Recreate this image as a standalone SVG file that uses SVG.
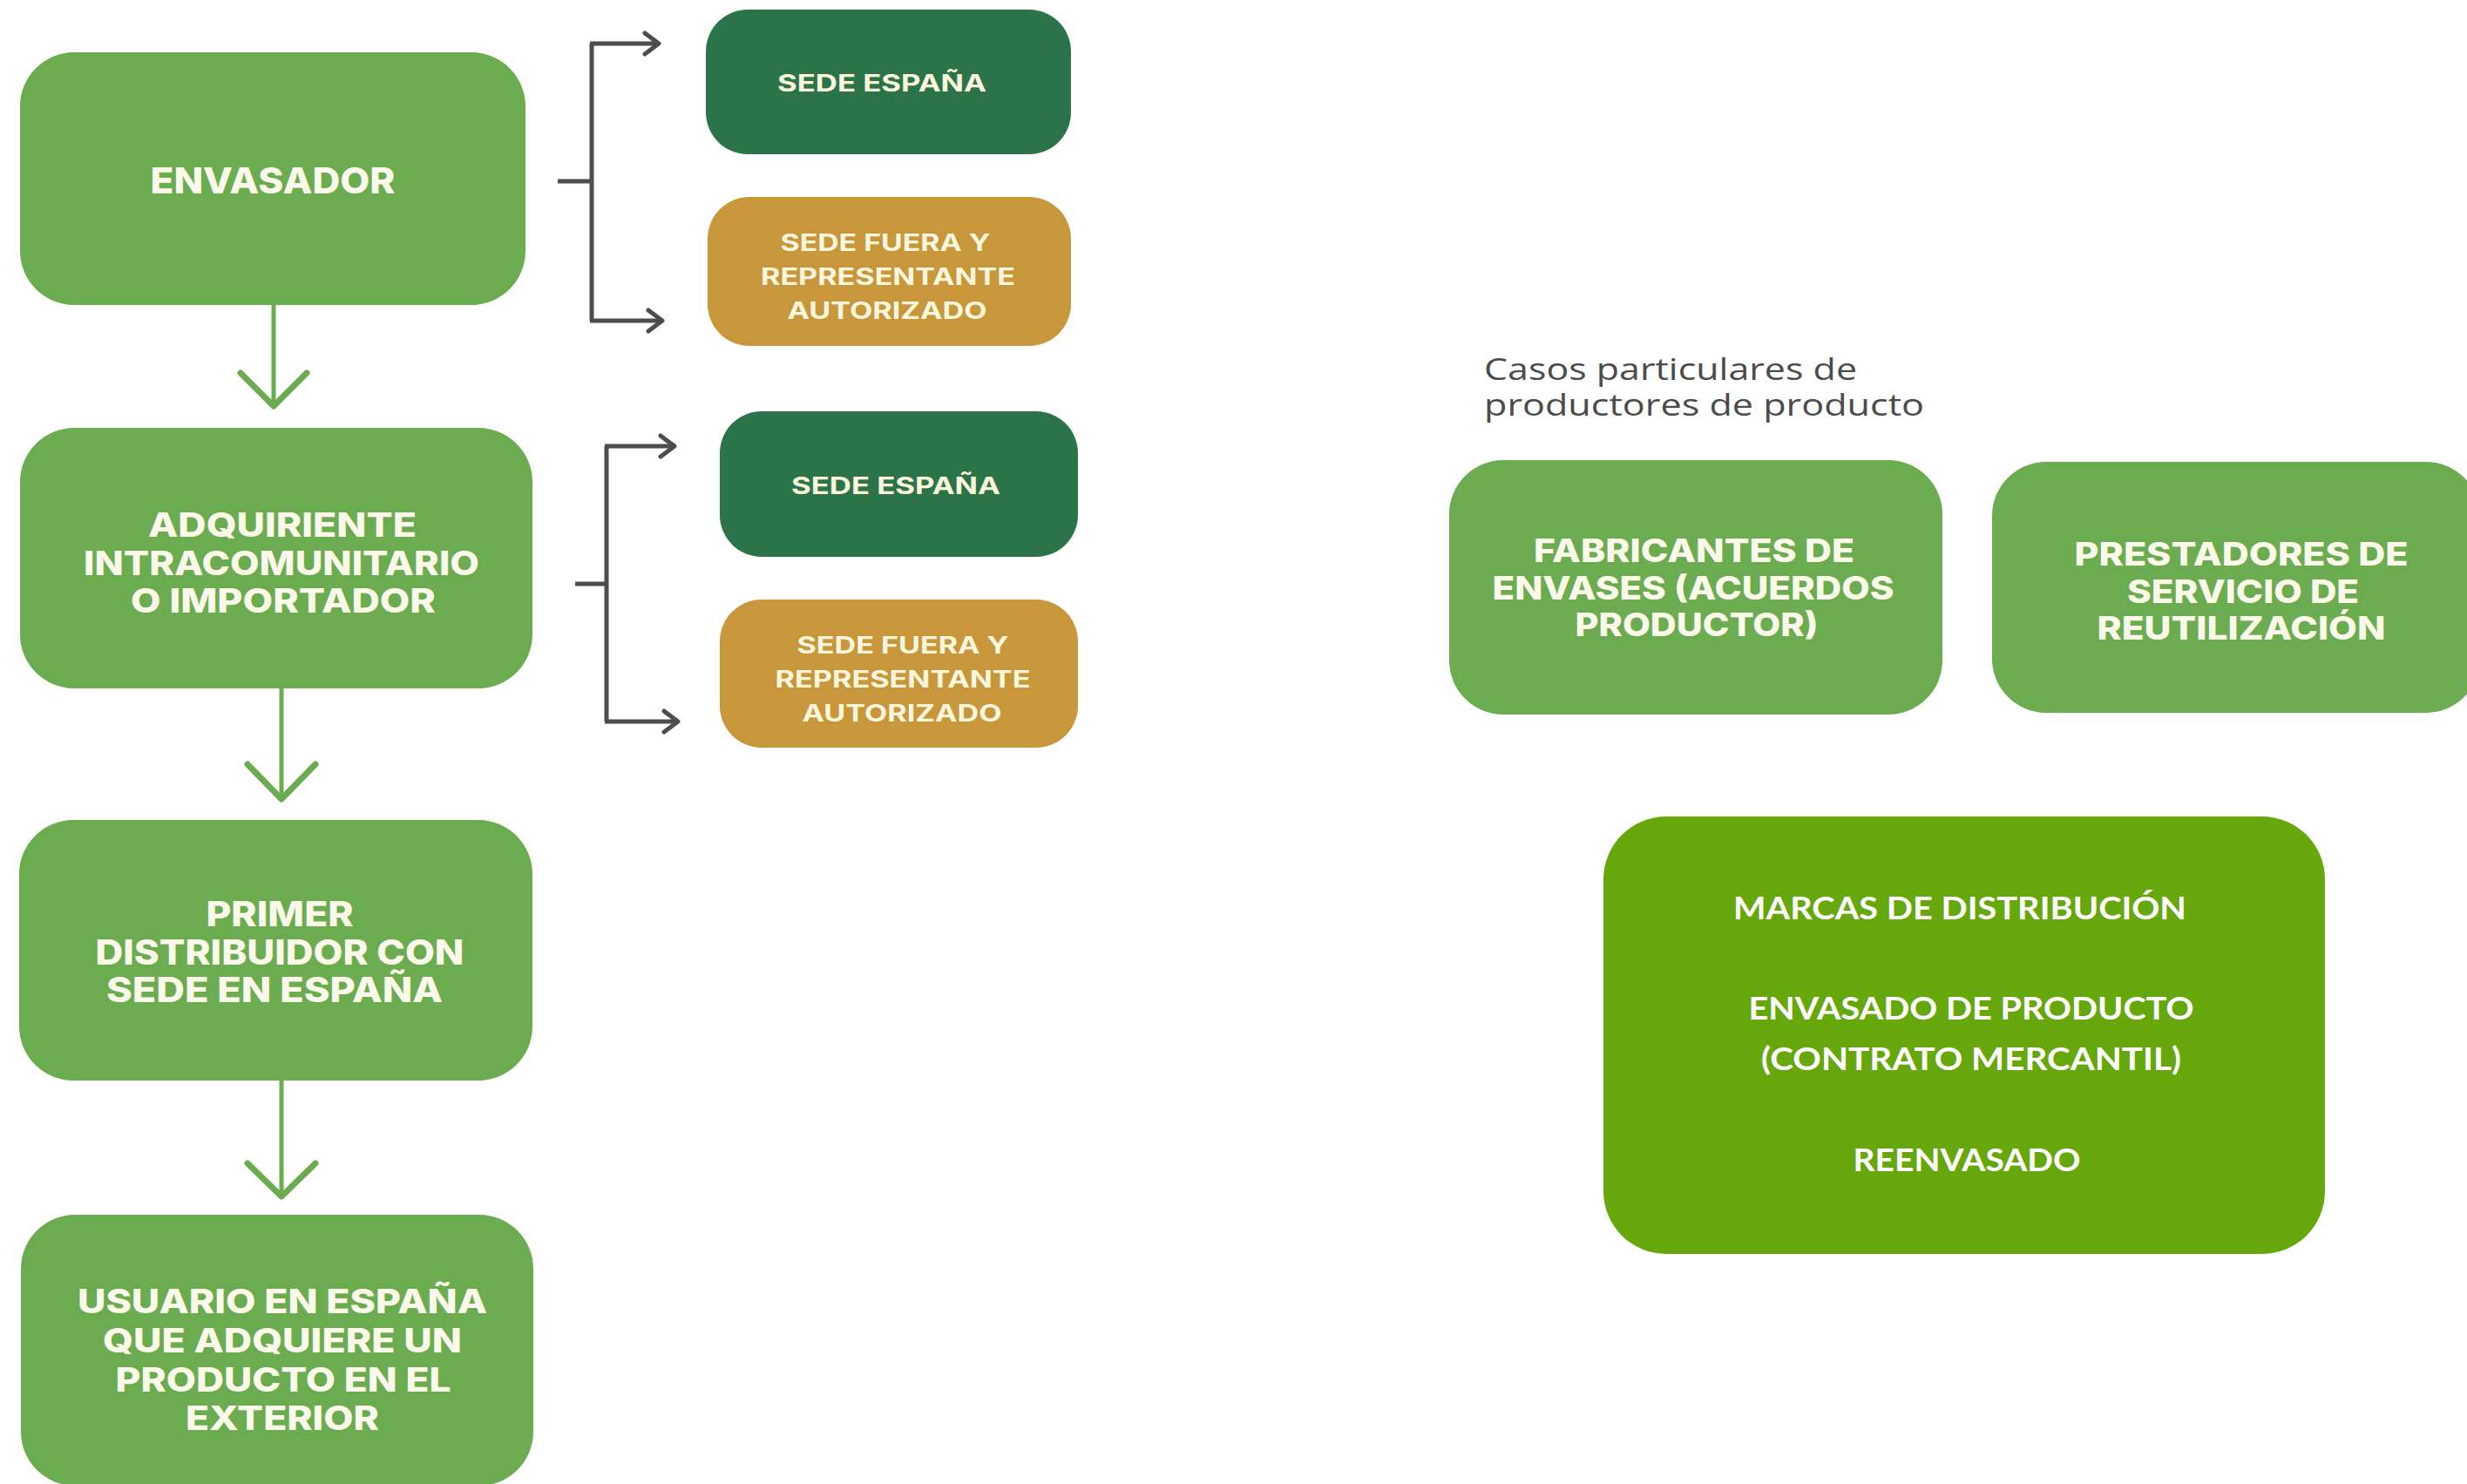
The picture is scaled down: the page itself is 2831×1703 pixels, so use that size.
<svg xmlns="http://www.w3.org/2000/svg" width="2831" height="1703" viewBox="0 0 2831 1703">
<defs>
<style>
.main{fill:#6aac4f}
.dark{fill:#2b744a}
.gold{fill:#c8973c}
.big{fill:#66a80c}
.t{font-family:Inter,"Open Sans","Liberation Sans",sans-serif;font-weight:800;fill:#fbf9ea;text-anchor:middle}
.ts{font-family:Inter,"Open Sans","Liberation Sans",sans-serif;font-weight:700;fill:#fbf6dc;text-anchor:middle}
.tm{font-family:Lato,"Open Sans","Liberation Sans",sans-serif;font-weight:700;fill:#ffffff;text-anchor:middle}
.cap{font-family:"Open Sans","Liberation Sans",sans-serif;font-weight:400;fill:#4b4b4b}
.gline{stroke:#6aac4f;stroke-width:5;fill:none;stroke-linecap:round;stroke-linejoin:round}
.ghead{stroke:#6aac4f;stroke-width:7;fill:none;stroke-linecap:round;stroke-linejoin:round}
.bline{stroke:#4d4d4d;stroke-width:5;fill:none;stroke-linejoin:miter}
</style>
<marker id="ah" markerUnits="userSpaceOnUse" markerWidth="24" markerHeight="30" viewBox="0 0 24 30" refX="20" refY="15" orient="auto">
<path d="M4,3 L20,15 L4,27" fill="none" stroke="#4d4d4d" stroke-width="5" stroke-linecap="round" stroke-linejoin="round"/>
</marker>
</defs>

<g id="connectors">
<path class="gline" d="M314,350 L314,465"/>
<path class="ghead" d="M276,428 L314,466 L352,428"/>
<path class="gline" d="M323,790 L323,916"/>
<path class="ghead" d="M284,877 L323,917 L362,877"/>
<path class="gline" d="M323,1240 L323,1372"/>
<path class="ghead" d="M284,1335 L323,1373 L362,1335"/>
<path class="bline" d="M640,208 L679,208"/>
<path class="bline" d="M679,50 L679,368"/>
<path class="bline" d="M677,50 L756,50" marker-end="url(#ah)"/>
<path class="bline" d="M677,368 L760,368" marker-end="url(#ah)"/>
<path class="bline" d="M660,670 L696,670"/>
<path class="bline" d="M696,512 L696,828"/>
<path class="bline" d="M694,512 L774,512" marker-end="url(#ah)"/>
<path class="bline" d="M694,828 L778,828" marker-end="url(#ah)"/>
</g>

<g id="envasador">
<rect class="main" x="23" y="60" width="580" height="290" rx="62"/>
<text class="t" x="313" y="222" font-size="41" textLength="281" lengthAdjust="spacingAndGlyphs">ENVASADOR</text>
</g>

<g id="sede1">
<rect class="dark" x="810" y="11" width="419" height="166" rx="48"/>
<text class="ts" x="1012" y="105" font-size="27" textLength="240" lengthAdjust="spacingAndGlyphs">SEDE ESPAÑA</text>
</g>

<g id="fuera1">
<rect class="gold" x="812" y="226" width="417" height="171" rx="48"/>
<text class="ts" x="1016" y="288" font-size="27" textLength="241" lengthAdjust="spacingAndGlyphs">SEDE FUERA Y</text>
<text class="ts" x="1019" y="327" font-size="27" textLength="292" lengthAdjust="spacingAndGlyphs">REPRESENTANTE</text>
<text class="ts" x="1018" y="366" font-size="27" textLength="229" lengthAdjust="spacingAndGlyphs">AUTORIZADO</text>
</g>

<g id="adquiriente">
<rect class="main" x="23" y="491" width="588" height="299" rx="62"/>
<text class="t" x="324" y="616" font-size="38" textLength="308" lengthAdjust="spacingAndGlyphs">ADQUIRIENTE</text>
<text class="t" x="323" y="660" font-size="38" textLength="454" lengthAdjust="spacingAndGlyphs">INTRACOMUNITARIO</text>
<text class="t" x="325" y="703" font-size="38" textLength="350" lengthAdjust="spacingAndGlyphs">O IMPORTADOR</text>
</g>

<g id="sede2">
<rect class="dark" x="826" y="472" width="411" height="167" rx="48"/>
<text class="ts" x="1028" y="567" font-size="27" textLength="240" lengthAdjust="spacingAndGlyphs">SEDE ESPAÑA</text>
</g>

<g id="fuera2">
<rect class="gold" x="826" y="688" width="411" height="170" rx="48"/>
<text class="ts" x="1036" y="750" font-size="27" textLength="243" lengthAdjust="spacingAndGlyphs">SEDE FUERA Y</text>
<text class="ts" x="1036" y="789" font-size="27" textLength="293" lengthAdjust="spacingAndGlyphs">REPRESENTANTE</text>
<text class="ts" x="1035" y="828" font-size="27" textLength="229" lengthAdjust="spacingAndGlyphs">AUTORIZADO</text>
</g>

<g id="primer">
<rect class="main" x="22" y="941" width="589" height="299" rx="62"/>
<text class="t" x="321" y="1063" font-size="39" textLength="169" lengthAdjust="spacingAndGlyphs">PRIMER</text>
<text class="t" x="321" y="1107" font-size="39" textLength="423" lengthAdjust="spacingAndGlyphs">DISTRIBUIDOR CON</text>
<text class="t" x="315" y="1150" font-size="39" textLength="386" lengthAdjust="spacingAndGlyphs">SEDE EN ESPAÑA</text>
</g>

<g id="usuario">
<rect class="main" x="24" y="1394" width="588" height="311" rx="62"/>
<text class="t" x="324" y="1507" font-size="38" textLength="470" lengthAdjust="spacingAndGlyphs">USUARIO EN ESPAÑA</text>
<text class="t" x="324" y="1552" font-size="38" textLength="412" lengthAdjust="spacingAndGlyphs">QUE ADQUIERE UN</text>
<text class="t" x="325" y="1597" font-size="38" textLength="385" lengthAdjust="spacingAndGlyphs">PRODUCTO EN EL</text>
<text class="t" x="324" y="1641" font-size="38" textLength="222" lengthAdjust="spacingAndGlyphs">EXTERIOR</text>
</g>

<g id="casos">
<text class="cap" x="1703" y="436" font-size="34" textLength="428" lengthAdjust="spacingAndGlyphs">Casos particulares de</text>
<text class="cap" x="1703" y="477" font-size="34" textLength="505" lengthAdjust="spacingAndGlyphs">productores de producto</text>
</g>

<g id="fabricantes">
<rect class="main" x="1663" y="528" width="566" height="292" rx="62"/>
<text class="t" x="1944" y="645" font-size="37" textLength="368" lengthAdjust="spacingAndGlyphs">FABRICANTES DE</text>
<text class="t" x="1943" y="688" font-size="37" textLength="461" lengthAdjust="spacingAndGlyphs">ENVASES (ACUERDOS</text>
<text class="t" x="1947" y="730" font-size="37" textLength="279" lengthAdjust="spacingAndGlyphs">PRODUCTOR)</text>
</g>

<g id="prestadores">
<rect class="main" x="2286" y="530" width="560" height="288" rx="62"/>
<text class="t" x="2572" y="649" font-size="37" textLength="383" lengthAdjust="spacingAndGlyphs">PRESTADORES DE</text>
<text class="t" x="2574" y="692" font-size="37" textLength="266" lengthAdjust="spacingAndGlyphs">SERVICIO DE</text>
<text class="t" x="2572" y="734" font-size="37" textLength="331" lengthAdjust="spacingAndGlyphs">REUTILIZACIÓN</text>
</g>

<g id="marcas">
<rect class="big" x="1840" y="937" width="828" height="502" rx="72"/>
<text class="tm" x="2249" y="1055" font-size="36" textLength="520" lengthAdjust="spacingAndGlyphs">MARCAS DE DISTRIBUCIÓN</text>
<text class="tm" x="2262" y="1170" font-size="36" textLength="511" lengthAdjust="spacingAndGlyphs">ENVASADO DE PRODUCTO</text>
<text class="tm" x="2262" y="1228" font-size="36" textLength="482" lengthAdjust="spacingAndGlyphs">(CONTRATO MERCANTIL)</text>
<text class="tm" x="2257" y="1344" font-size="36" textLength="261" lengthAdjust="spacingAndGlyphs">REENVASADO</text>
</g>
</svg>
